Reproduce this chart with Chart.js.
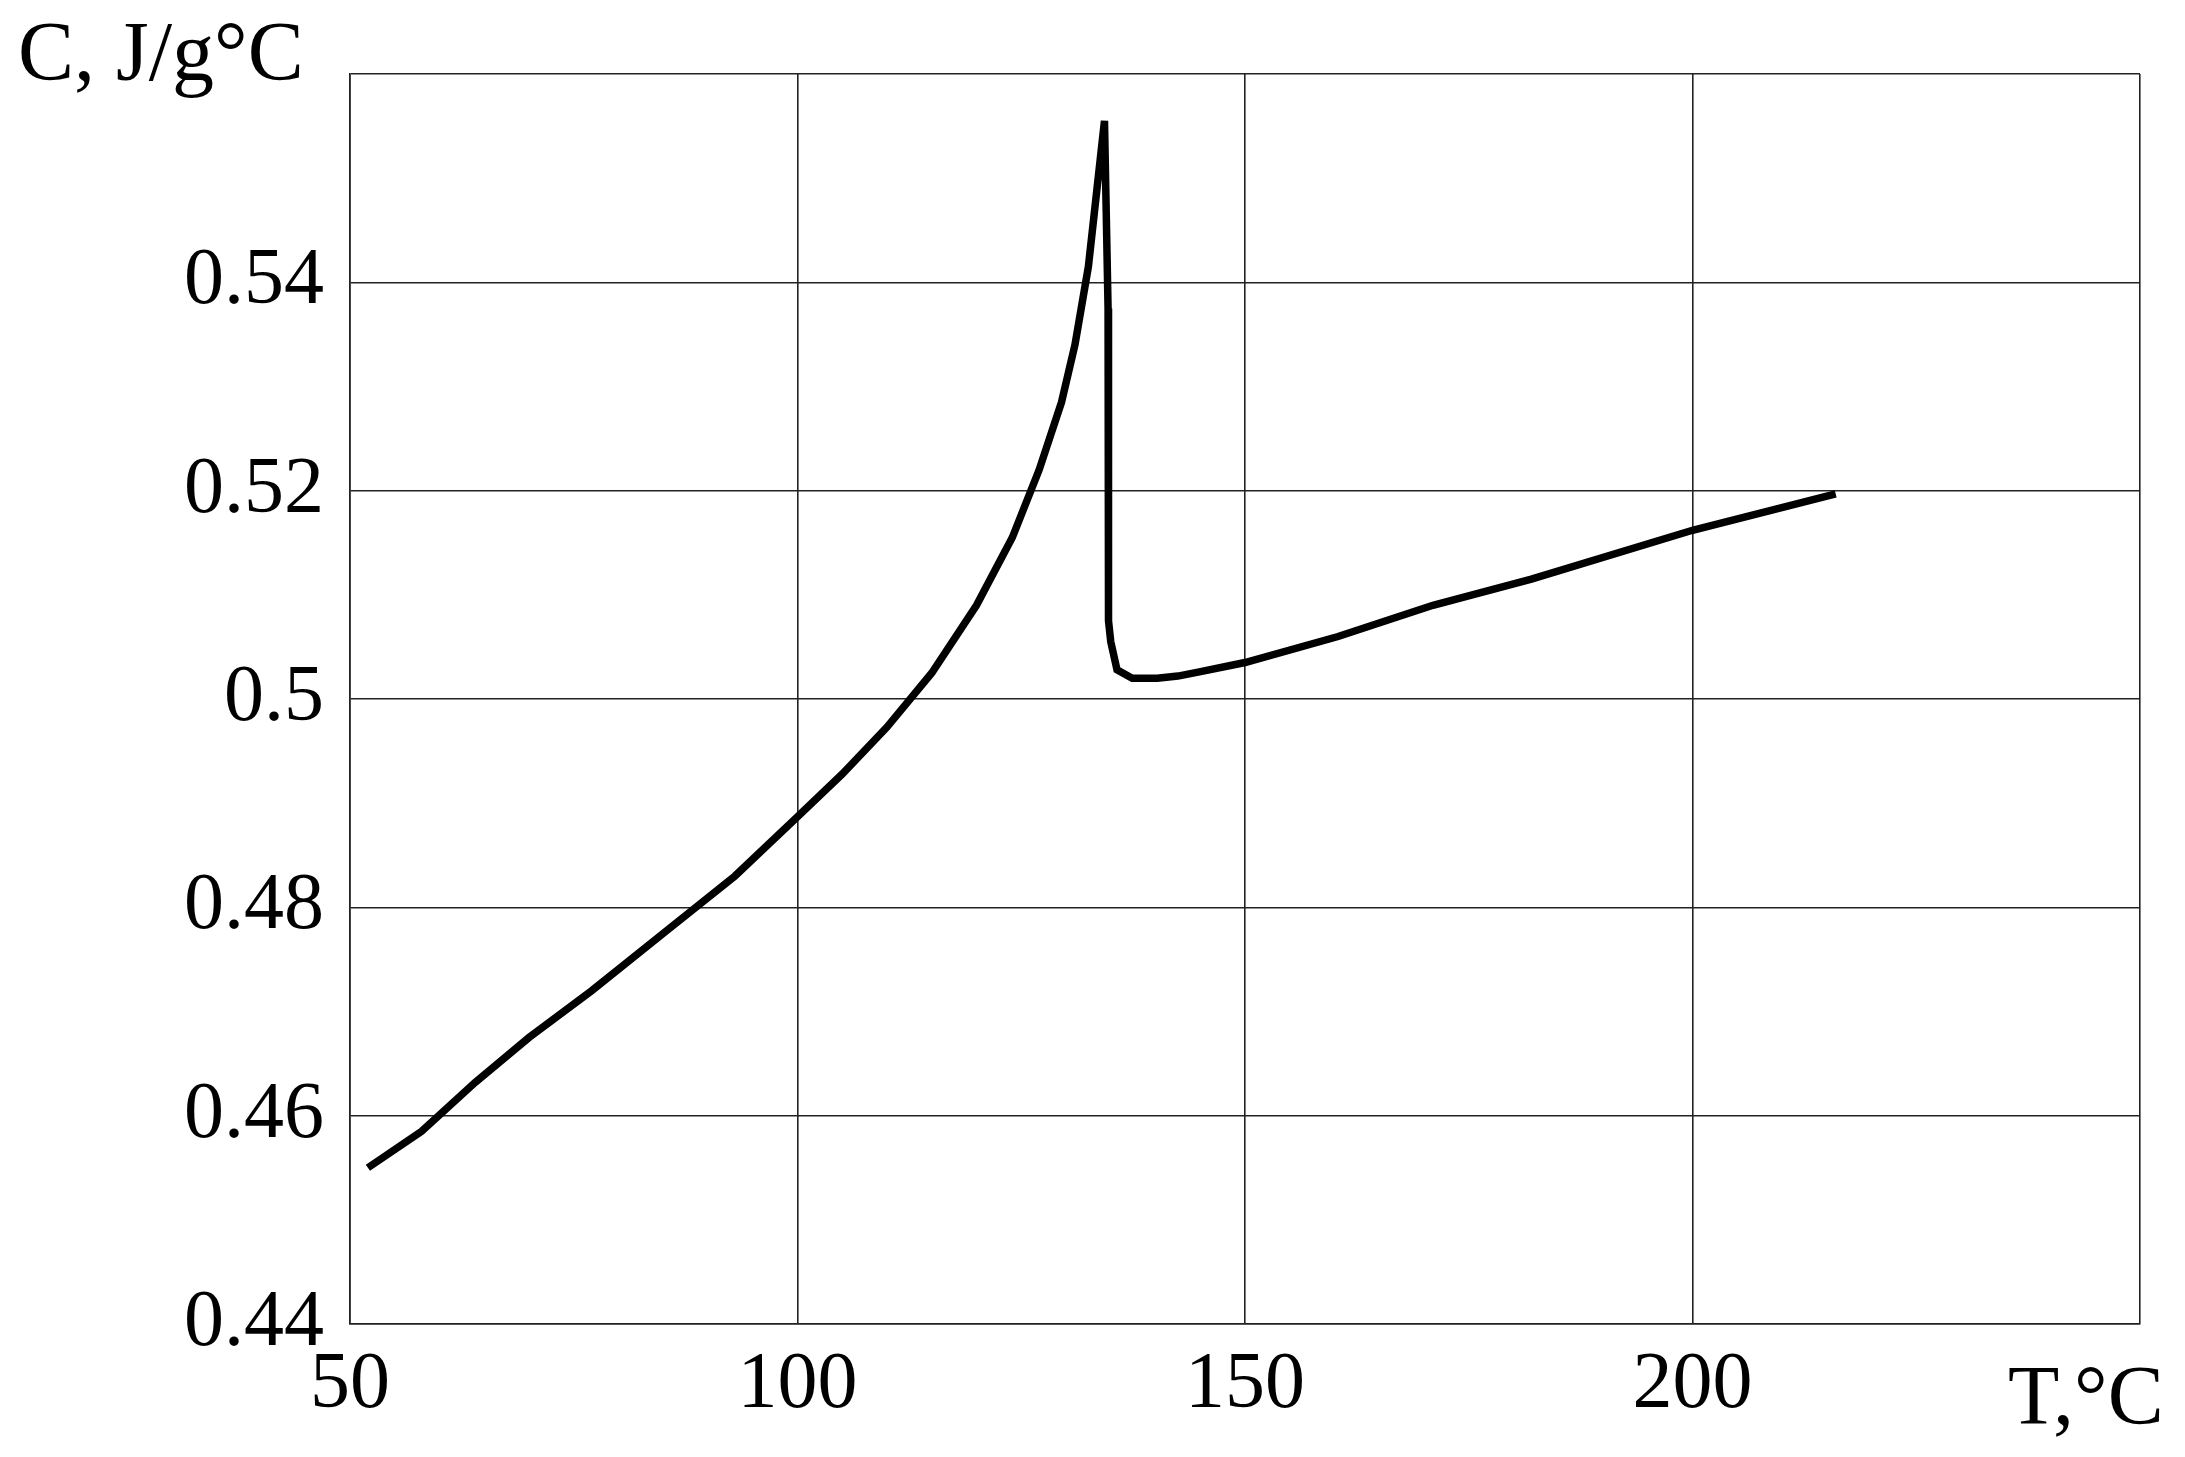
<!DOCTYPE html>
<html><head><meta charset="utf-8">
<script src="https://cdn.jsdelivr.net/npm/chart.js@4"></script>
<style>html,body{margin:0;padding:0;background:#fff}#c{display:block}</style>
</head><body>
<canvas id="c" width="2185" height="1457"></canvas>
<script>
const temps = [52,58,64,70,77,85,93,100,105,110,115,120,124,127,129.5,131,132.5,134.3,134.7,134.7,134.8,135,135.7,137.4,140.2,142.5,144.9,150,160.4,171,182,200,216];
const capacity = [0.455,0.4585,0.4632,0.4675,0.472,0.4775,0.483,0.4887,0.4928,0.4973,0.5025,0.509,0.5155,0.522,0.5285,0.534,0.5415,0.5555,0.5375,0.51,0.5075,0.5055,0.5028,0.502,0.502,0.5022,0.5026,0.5035,0.506,0.509,0.5115,0.5162,0.5197];
const xTicks = [50,100,150,200];
const yTicks = [0.44,0.46,0.48,0.5,0.52,0.54];
const yTitle = "C, J/g°C";
const xTitle = "T,°C";
const FONT = "'Liberation Serif','DejaVu Serif',serif";
const titles = {id:'titles', afterDraw(ch){const c=ch.ctx;c.save();c.fillStyle='#000';c.font='84px '+FONT;c.textBaseline='middle';c.textAlign='left';c.fillText(yTitle,18,58);c.fillText(xTitle,2008,1402);c.restore();}};
new Chart(document.getElementById('c'),{
type:'scatter',
data:{datasets:[{data:temps.map((t,i)=>({x:t,y:capacity[i]})),showLine:true,borderColor:'#000',borderWidth:7.5,pointRadius:0,tension:0,fill:false}]},
options:{responsive:false,animation:false,devicePixelRatio:1,
layout:{padding:{top:65,right:45,left:0,bottom:0}},
plugins:{legend:{display:false},tooltip:{enabled:false}},
scales:{
x:{type:'linear',min:50,max:250,afterFit(a){a.height=133;},
afterBuildTicks(a){a.ticks=[50,100,150,200,250].map(v=>({value:v}));},
ticks:{callback:v=>xTicks.includes(v)?String(v):'',color:'#000',font:{family:FONT,size:80},padding:14,maxRotation:0},
grid:{color:'#222',lineWidth:1.6,drawTicks:false},border:{color:'#222',width:1.6}},
y:{min:0.44,max:0.56,afterFit(a){a.width=350;},
afterBuildTicks(a){a.ticks=[0.44,0.46,0.48,0.5,0.52,0.54,0.56].map(v=>({value:v}));},
ticks:{callback:v=>{const m=yTicks.find(t=>Math.abs(t-v)<1e-6);return m!==undefined?String(m):'';},color:'#000',font:{family:FONT,size:80},padding:26},
grid:{color:'#222',lineWidth:1.6,drawTicks:false},border:{color:'#222',width:1.6}}
}},
plugins:[titles]});
</script></body></html>
